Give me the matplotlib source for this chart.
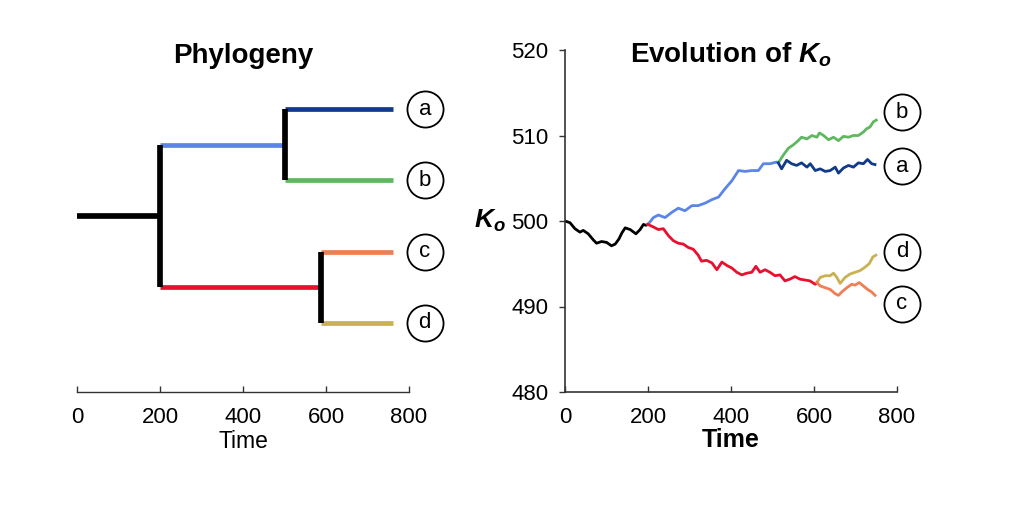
import matplotlib
matplotlib.use("Agg")
import matplotlib.pyplot as plt

plt.rcParams['font.family'] = ['Liberation Sans', 'DejaVu Sans']
plt.rcParams['mathtext.fontset'] = 'custom'
plt.rcParams['mathtext.it'] = 'Liberation Sans:italic:bold'
plt.rcParams['mathtext.rm'] = 'Liberation Sans:bold'
plt.rcParams['mathtext.bf'] = 'Liberation Sans:bold'

# ---------------- data ----------------
C_BLACK = '#000000'
C_BLUE = '#5b86e8'
C_NAVY = '#123a8a'
C_GREEN = '#5db85f'
C_RED = '#e8102e'
C_ORANGE = '#ef7e54'
C_OLIVE = '#c9b152'

# phylogeny
tip_labels = ['a', 'b', 'c', 'd']
tip_pos = [4, 3, 2, 1]
root_pos = 2.5
ab_pos = 3.5
cd_pos = 1.5
split_root = 200
split_ab = 500
split_cd = 588
tip_end = 762

# trait evolution (time, K_o)
t_trunk = [0, 12, 24, 36, 44, 56, 68, 76, 88, 100, 112, 121, 130, 137, 145, 157, 171, 181, 189, 195, 200]
k_trunk = [500.0, 499.8, 499.1, 498.7, 498.9, 498.5, 497.8, 497.4, 497.6, 497.5, 497.1, 497.3, 497.9, 498.6, 499.2, 499.0, 498.5, 499.0, 499.6, 499.5, 499.6]

t_blue = [200, 213, 225, 241, 257, 273, 289, 306, 321, 338, 354, 370, 386, 402, 418, 434, 450, 466, 478, 494, 510, 514]
k_blue = [499.6, 500.4, 500.7, 500.4, 501.0, 501.5, 501.2, 501.8, 501.8, 502.1, 502.5, 502.8, 503.8, 504.7, 505.9, 505.8, 505.9, 505.9, 506.7, 506.7, 506.9, 506.8]

t_green = [514, 526, 538, 550, 562, 570, 583, 595, 607, 613, 623, 635, 647, 659, 671, 683, 695, 707, 719, 727, 735, 743, 750]
k_green = [506.8, 507.7, 508.5, 508.9, 509.4, 509.8, 509.6, 510.0, 509.8, 510.3, 510.0, 509.5, 509.8, 509.4, 509.9, 509.8, 510.0, 510.0, 510.4, 510.8, 511.0, 511.6, 511.8]

t_navy = [514, 522, 534, 546, 558, 570, 583, 591, 603, 615, 627, 639, 651, 659, 671, 683, 695, 707, 719, 729, 739, 747]
k_navy = [506.8, 506.1, 507.1, 506.7, 506.5, 506.8, 506.3, 506.7, 505.9, 506.1, 505.8, 505.9, 506.3, 505.6, 506.2, 506.5, 506.3, 506.8, 506.7, 507.2, 506.7, 506.6]

t_red = [200, 213, 225, 237, 249, 261, 273, 285, 297, 309, 321, 329, 341, 354, 366, 378, 390, 402, 414, 426, 438, 450, 460, 470, 482, 494, 506, 518, 530, 542, 554, 566, 578, 590, 603, 607]
k_red = [499.6, 499.3, 499.0, 499.1, 498.3, 497.7, 497.4, 497.3, 496.9, 496.7, 496.0, 495.3, 495.4, 495.1, 494.3, 495.2, 494.8, 494.5, 494.0, 493.7, 493.9, 494.0, 494.7, 494.0, 494.3, 494.0, 493.6, 493.7, 493.0, 493.2, 493.5, 493.2, 493.1, 493.0, 492.6, 492.8]

t_olive = [607, 615, 627, 639, 647, 655, 663, 675, 687, 699, 711, 723, 733, 742, 749]
k_olive = [492.8, 493.4, 493.6, 493.6, 493.9, 493.4, 492.7, 493.4, 493.8, 494.0, 494.2, 494.6, 495.0, 495.8, 496.0]

t_orange = [607, 615, 627, 639, 651, 659, 667, 679, 691, 699, 709, 719, 729, 739, 747]
k_orange = [492.8, 492.4, 492.2, 492.0, 491.5, 491.3, 491.7, 492.2, 492.6, 492.5, 492.8, 492.4, 492.0, 491.7, 491.3]

right_label_letters = ['b', 'a', 'd', 'c']
right_label_y = [512.7, 506.4, 496.4, 490.3]

xticks = [0, 200, 400, 600, 800]
yticks = [480, 490, 500, 510, 520]

# ---------------- figure ----------------
W, H = 1030, 529
fig = plt.figure(figsize=(W / 100, H / 100), dpi=100)

def ax_rect(x0, x1, ytop, ybot):
    return [x0 / W, 1 - ybot / H, (x1 - x0) / W, (ybot - ytop) / H]

axL = fig.add_axes(ax_rect(77, 409, 50, 392))
axR = fig.add_axes(ax_rect(565, 897, 50, 392))

FS = 16
TITLE_FS = 20

# ---- left: phylogeny ----
axL.set_xlim(0, 800)
axL.set_ylim(0.03, 4.83)
lw_c = 3.4
lw_k = 4.1
axL.plot([0, split_root], [root_pos, root_pos], color=C_BLACK, lw=lw_k, solid_capstyle='butt')
axL.plot([split_root, split_ab], [ab_pos, ab_pos], color=C_BLUE, lw=lw_c, solid_capstyle='butt')
axL.plot([split_root, split_cd], [cd_pos, cd_pos], color=C_RED, lw=lw_c, solid_capstyle='butt')
tip_cols = [C_NAVY, C_GREEN, C_ORANGE, C_OLIVE]
tip_start = [split_ab, split_ab, split_cd, split_cd]
for s, p, c in zip(tip_start, tip_pos, tip_cols):
    axL.plot([s, tip_end], [p, p], color=c, lw=lw_c, solid_capstyle='butt')
axL.plot([split_root, split_root], [cd_pos, ab_pos], color=C_BLACK, lw=lw_k, solid_capstyle='butt')
axL.plot([split_ab, split_ab], [tip_pos[1], tip_pos[0]], color=C_BLACK, lw=lw_k, solid_capstyle='butt')
axL.plot([split_cd, split_cd], [tip_pos[3], tip_pos[2]], color=C_BLACK, lw=lw_k, solid_capstyle='butt')
for lab, p in zip(tip_labels, tip_pos):
    axL.plot([838], [p], marker='o', ms=26, mfc='white', mec='black', mew=1.3, clip_on=False, zorder=5)
    axL.text(838, p, lab, ha='center', va='center', fontsize=FS, zorder=6, clip_on=False)

for s in ['left', 'right', 'top']:
    axL.spines[s].set_visible(False)
axL.spines['bottom'].set_color('#333333')
axL.spines['bottom'].set_linewidth(1.0)
axL.set_yticks([])
axL.set_xticks(xticks)
axL.tick_params(axis='x', direction='in', length=4, width=1.0, color='#333333', labelsize=FS, pad=11)
axL.set_xlabel('Time', fontsize=16.5, labelpad=1)
axL.text(0.5, 0.962, 'Phylogeny', transform=axL.transAxes, ha='center', va='baseline',
         fontsize=TITLE_FS, fontweight='bold')

# ---- right: evolution ----
axR.set_xlim(0, 800)
axR.set_ylim(480, 520)
lw_r = 2.0
axR.plot(t_trunk, k_trunk, color=C_BLACK, lw=lw_r)
axR.plot(t_blue, k_blue, color=C_BLUE, lw=lw_r)
axR.plot(t_red, k_red, color=C_RED, lw=lw_r)
axR.plot(t_green, k_green, color=C_GREEN, lw=lw_r)
axR.plot(t_navy, k_navy, color=C_NAVY, lw=lw_r)
axR.plot(t_olive, k_olive, color=C_OLIVE, lw=lw_r)
axR.plot(t_orange, k_orange, color=C_ORANGE, lw=lw_r)
for lab, y in zip(right_label_letters, right_label_y):
    axR.plot([812], [y], marker='o', ms=26, mfc='white', mec='black', mew=1.3, clip_on=False, zorder=5)
    axR.text(812, y, lab, ha='center', va='center', fontsize=FS, zorder=6, clip_on=False)

for s in ['right', 'top']:
    axR.spines[s].set_visible(False)
for s in ['left', 'bottom']:
    axR.spines[s].set_color('#333333')
    axR.spines[s].set_linewidth(1.2)
axR.set_xticks(xticks)
axR.set_yticks(yticks)
axR.tick_params(axis='x', direction='in', length=4, width=1.0, color='#333333', labelsize=FS, pad=11)
axR.tick_params(axis='y', direction='out', length=4, width=1.0, color='#333333', labelsize=FS, pad=8)
axR.set_xlabel('Time', fontsize=18, fontweight='bold', labelpad=0)
axR.set_ylabel('$K_o$', fontsize=19, rotation=0, labelpad=8, va='center')
axR.yaxis.set_label_coords(-0.225, 0.5)
axR.text(0.5, 0.962, 'Evolution of $K_o$', transform=axR.transAxes, ha='center', va='baseline',
         fontsize=TITLE_FS, fontweight='bold')

fig.savefig('out.png', dpi=100, facecolor='white')
